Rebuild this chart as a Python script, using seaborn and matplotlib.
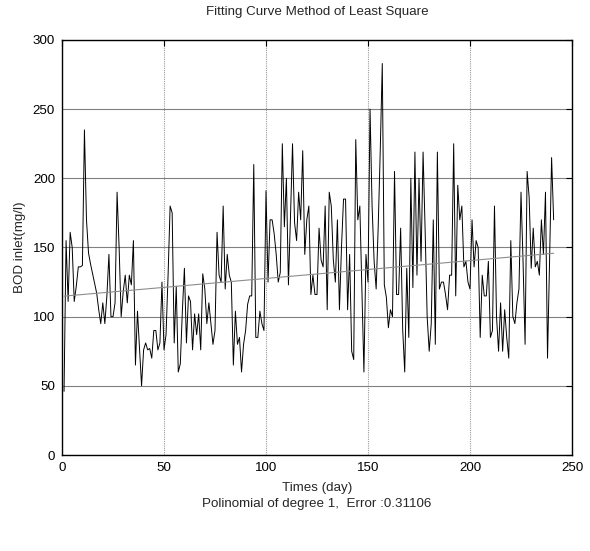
import numpy as np
import pandas as pd
import matplotlib
matplotlib.use("Agg")
import matplotlib.pyplot as plt
import seaborn as sns

# ---- data ----
bod = [
    46, 155, 111, 161, 150, 111, 122, 136, 136, 137,
    235, 170, 146, 138, 131, 124, 117, 105, 95, 110,
    95, 115, 145, 100, 100, 110, 190, 150, 100, 118,
    130, 110, 130, 123, 155, 65, 104, 77, 50, 76,
    81, 76, 77, 70, 90, 90, 76, 81, 125, 76,
    87, 130, 180, 175, 81, 122, 60, 66, 104, 135,
    81, 115, 111, 76, 102, 87, 102, 76, 131, 120,
    95, 110, 95, 80, 90, 161, 130, 125, 180, 120,
    145, 130, 125, 65, 104, 80, 85, 60, 80, 90,
    109, 115, 115, 210, 85, 85, 104, 95, 90, 191,
    125, 170, 170, 160, 145, 125, 132, 225, 165, 200,
    123, 172, 225, 168, 155, 190, 170, 220, 145, 170,
    180, 116, 130, 116, 116, 164, 141, 136, 180, 105,
    190, 180, 141, 125, 170, 105, 150, 185, 185, 105,
    145, 75, 69, 228, 170, 180, 120, 60, 145, 125,
    250, 180, 140, 120, 165, 220, 283, 123, 114, 92,
    105, 100, 205, 116, 116, 164, 91, 60, 135, 85,
    200, 121, 219, 130, 200, 140, 219, 163, 100, 75,
    95, 170, 80, 219, 120, 125, 125, 116, 105, 130,
    130, 225, 115, 195, 170, 180, 136, 140, 125, 120,
    170, 136, 155, 150, 85, 130, 115, 115, 140, 85,
    90, 180, 100, 75, 110, 75, 105, 85, 70, 155,
    100, 95, 110, 120, 190, 140, 80, 205, 186, 135,
    164, 136, 140, 130, 170, 145, 190, 70, 140, 215,
    170,
]
days = list(range(1, len(bod) + 1))
x_ticks = [0, 50, 100, 150, 200, 250]
y_ticks = [0, 50, 100, 150, 200, 250, 300]
title = "Fitting Curve Method of Least Square"
xlabel = "Times (day)"
subtitle = "Polinomial of degree 1,  Error :0.31106"
ylabel = "BOD inlet(mg/l)"

# least-squares fit of degree 1
coef = np.polyfit(days, bod, 1)
fit = np.polyval(coef, days)

df = pd.DataFrame({"day": days, "bod": bod, "fit": fit})

sns.set_style("white")
plt.rcParams["font.family"] = ["Liberation Sans", "DejaVu Sans"]
FS = 9.6
plt.rcParams["font.size"] = FS

fig = plt.figure(figsize=(5.9, 5.51), dpi=100)
ax = fig.add_axes([62 / 590, 1 - 455 / 551, (572 - 62) / 590, (455 - 40) / 551])

sns.lineplot(data=df, x="day", y="bod", ax=ax, color="black", lw=0.7,
             errorbar=None, sort=False)
sns.lineplot(data=df, x="day", y="fit", ax=ax, color="#8c8c8c", lw=0.8,
             errorbar=None, sort=False)

ax.set_xlim(0, 250)
ax.set_ylim(0, 300)
ax.set_xticks(x_ticks)
ax.set_yticks(y_ticks)

ax.xaxis.grid(True, color="#9a9a9a", linestyle=(0, (1, 1)), lw=0.8)
ax.yaxis.grid(True, color="#808080", linestyle="-", lw=0.8)
ax.set_axisbelow(True)

for s in ax.spines.values():
    s.set_color("black")
    s.set_linewidth(1.0)
    s.set_visible(True)

ax.tick_params(direction="in", top=True, right=True, length=4, width=0.8,
               labelsize=FS, colors="black", pad=5)

ax.set_xlabel(xlabel + "\n" + subtitle, fontsize=FS, labelpad=6, linespacing=1.4)
ax.set_ylabel(ylabel, fontsize=FS, labelpad=5)
fig.text(317 / 590, 1 - 12 / 551, title, ha="center", va="center", fontsize=FS)

fig.savefig("out.png", dpi=100)
